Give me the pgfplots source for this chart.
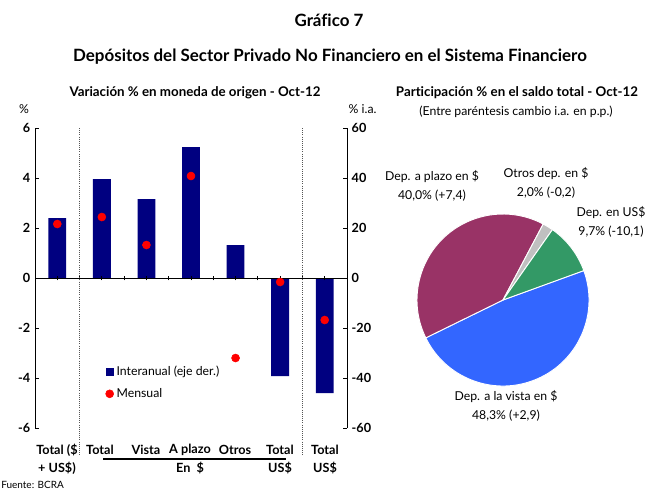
\documentclass[border=0pt]{standalone}
\usepackage{pgfplots}
\usepackage{pgfplotstable}
\pgfplotsset{compat=1.18}
\usepackage{fontspec}
\setmainfont[Ligatures=NoCommon]{Lato}
\definecolor{navy}{HTML}{000080}
\definecolor{pieblue}{HTML}{3366FF}
\definecolor{piemag}{HTML}{993366}
\definecolor{piegray}{HTML}{C0C0C0}
\definecolor{piegreen}{HTML}{339966}
\definecolor{dotline}{HTML}{555555}

\pgfplotstableread{
x inter mens
0 24.0 2.16
1 39.6 2.44
2 31.6 1.32
3 52.4 4.08
4 13.2 -3.2
5 -39.2 -0.16
6 -46.0 -1.68
}\datatable

% pie shares (clockwise from 20 deg): vista, plazo, otros, US$
\pgfmathsetmacro\aA{20}
\pgfmathsetmacro\aB{\aA-3.6*48.3}
\pgfmathsetmacro\aC{\aB-3.6*40.0}
\pgfmathsetmacro\aD{\aC-3.6*2.0}
\pgfmathsetmacro\aE{\aD-3.6*9.7}

\newcommand{\tk}{\bfseries\fontsize{9.5}{11}\selectfont}
\newcommand{\sm}{\fontsize{9.2}{11}\selectfont}
\begin{document}
\begin{tikzpicture}
\useasboundingbox (0,0) rectangle (483.75pt,-367.5pt);
\begin{axis}[at={(26.25pt,-321pt)}, anchor=south west, scale only axis,
  width=234pt, height=225pt, xmin=-0.5, xmax=6.5, ymin=-60, ymax=60,
  axis x line=none, axis y line*=right, ytick={-60,-40,...,60},
  tick align=inside, major tick length=3pt,
  tick style={black, line width=0.6pt}, axis line style={black, line width=0.6pt},
  yticklabel style={font=\tk}, /pgf/number format/assume math mode=true, clip=false]
\addplot[ybar, bar width=0.4, fill=navy, draw=none] table[x=x,y=inter] {\datatable};
\end{axis}
\begin{axis}[at={(26.25pt,-321pt)}, anchor=south west, scale only axis,
  width=234pt, height=225pt, xmin=-0.5, xmax=6.5, ymin=-6, ymax=6,
  axis y line=none, axis x line*=middle, xtick={0,0.5,...,6},
  xticklabel style={opacity=0},
  tick align=center, major tick length=3.5pt,
  tick style={black, line width=0.6pt}, axis line style={black, line width=0.6pt}]
\addplot[draw=none] coordinates {(0,0)};
\end{axis}
\begin{axis}[at={(26.25pt,-321pt)}, anchor=south west, scale only axis,
  width=234pt, height=225pt, xmin=-0.5, xmax=6.5, ymin=-6, ymax=6,
  axis x line=none, axis y line*=left, ytick={-6,-4,...,6},
  tick align=inside, major tick length=3pt,
  tick style={black, line width=0.6pt}, axis line style={black, line width=0.6pt},
  yticklabel style={font=\tk}, /pgf/number format/assume math mode=true, clip=false,
  legend style={at={(0.212,0.225)}, anchor=north west, draw=none, fill=none,
    font=\sm, row sep=4pt},
  legend cell align=left]
\addlegendimage{legend image code/.code={\fill[navy] (0pt,-2.6pt) rectangle (5.4pt,2.8pt);}}
\addlegendentry{Interanual (eje der.)}
\addplot[only marks, mark=*, mark size=3pt, red, mark options={draw=none, fill=red},
  legend image code/.code={\fill[red] (2.7pt,0pt) circle (3pt);}]
  table[x=x,y=mens]{\datatable};
\addlegendentry{Mensual}
\draw[densely dotted, dotline, line width=0.6pt] (axis cs:0.5,6) -- (axis cs:0.5,-7.1);
\draw[densely dotted, dotline, line width=0.6pt] (axis cs:5.5,6) -- (axis cs:5.5,-7.1);
\end{axis}
\begin{axis}[at={(377.25pt,-225pt)}, anchor=center, scale only axis,
  width=154.8pt, height=154.8pt, xmin=-1.2, xmax=1.2, ymin=-1.2, ymax=1.2,
  hide axis, clip=false]
\addplot[draw=none] coordinates {(0,0)};
\filldraw[fill=pieblue, draw=white, line width=0.7pt] (axis cs:0,0) -- (axis cs:{cos(\aA)},{sin(\aA)}) arc[start angle=\aA, end angle=\aB, radius=64.5pt] -- cycle;
\filldraw[fill=piemag, draw=white, line width=0.7pt] (axis cs:0,0) -- (axis cs:{cos(\aB)},{sin(\aB)}) arc[start angle=\aB, end angle=\aC, radius=64.5pt] -- cycle;
\filldraw[fill=piegray, draw=white, line width=0.7pt] (axis cs:0,0) -- (axis cs:{cos(\aC)},{sin(\aC)}) arc[start angle=\aC, end angle=\aD, radius=64.5pt] -- cycle;
\filldraw[fill=piegreen, draw=white, line width=0.7pt] (axis cs:0,0) -- (axis cs:{cos(\aD)},{sin(\aD)}) arc[start angle=\aD, end angle=\aE, radius=64.5pt] -- cycle;
\end{axis}
\begin{scope}[x=0.75pt, y=-0.75pt]
\node[font=\bfseries\fontsize{12.7}{15}\selectfont] at (329,20) {Gráfico 7};
\node[font=\bfseries\fontsize{12.7}{15}\selectfont] at (330,57) {Depósitos del Sector Privado No Financiero en el Sistema Financiero};
\node[font=\bfseries\fontsize{10}{12}\selectfont] at (195,93) {Variación \% en moneda de origen - Oct-12};
\node[font=\bfseries\fontsize{10}{12}\selectfont] at (517,93) {Participación \% en el saldo total - Oct-12};
\node[font=\sm] at (516,112) {(Entre paréntesis cambio i.a. en p.p.)};
\node[font=\sm] at (24,109) {\%};
\node[font=\sm, anchor=west] at (344,109) {\% i.a.};
% category labels
\foreach \xx/\tt in {57/{Total (\$},100/Total,146/Vista,190/A plazo,235/Otros,280/Total,325/Total}
  \node[font=\tk] at (\xx,450) {\tt};
\foreach \xx/\tt in {57/{+ US\$)},190/{En\ \ \$},280/US\$,325/US\$}
  \node[font=\tk] at (\xx,468) {\tt};
\draw[line width=0.8pt] (103,459) -- (286,459);
\node[font=\fontsize{7.5}{9}\selectfont, anchor=south west, inner sep=0pt] at (1,489) {Fuente: BCRA};
% pie labels
\node[font=\sm, align=center] at (432,186) {Dep. a plazo en \$\\[3pt]40,0\% (+7,4)};
\node[font=\sm, align=center] at (546,183) {Otros dep. en \$\\[3pt]2,0\% (-0,2)};
\node[font=\sm, align=center] at (611,222) {Dep. en US\$\\[3pt]9,7\% (-10,1)};
\node[font=\sm, align=center] at (506,406) {Dep. a la vista en \$\\[3pt]48,3\% (+2,9)};
\end{scope}
\end{tikzpicture}
\end{document}
